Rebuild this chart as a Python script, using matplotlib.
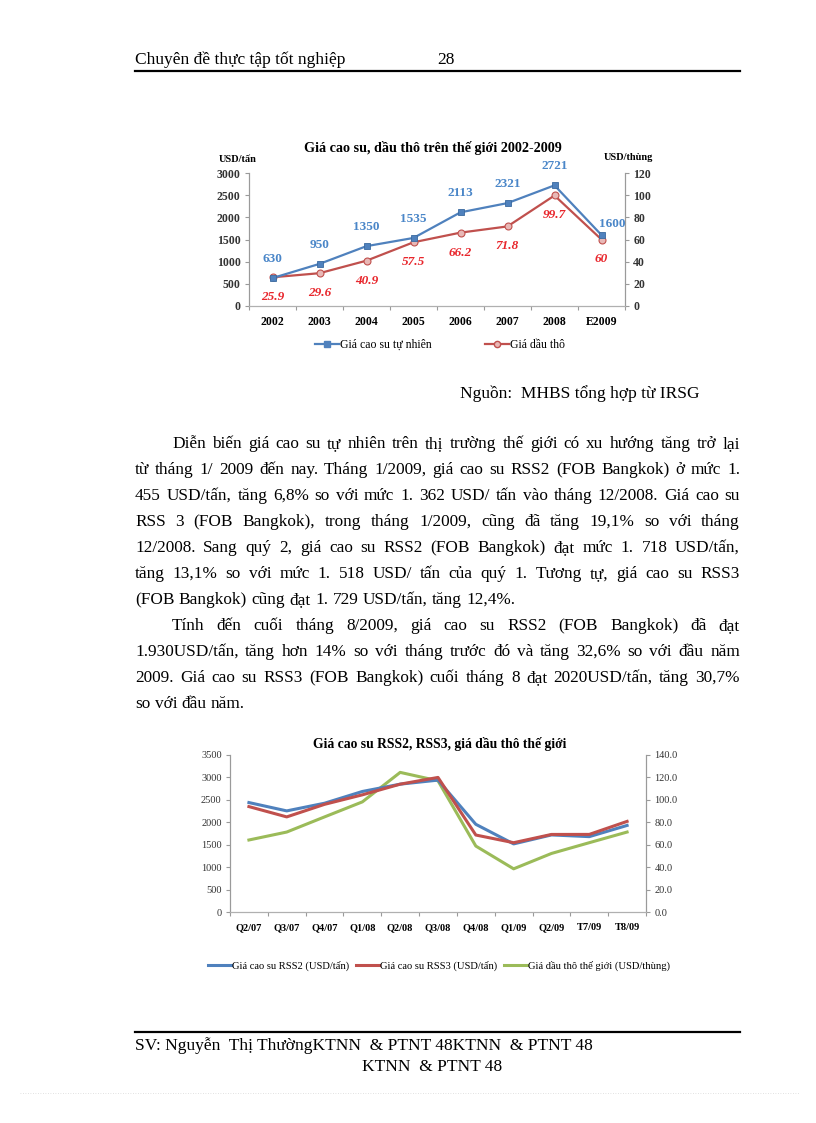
import numpy as np
import matplotlib
matplotlib.use('Agg')
import matplotlib.pyplot as plt
from matplotlib.lines import Line2D

W, H = 816, 1123
plt.rcParams['font.family'] = ['Liberation Serif', 'DejaVu Serif']

# chart 1: gia cao su, dau tho 2002-2009
years = ['2002', '2003', '2004', '2005', '2006', '2007', '2008', 'E2009']
rubber_price = [630, 950, 1350, 1535, 2113, 2321, 2721, 1600]
oil_price = [25.9, 29.6, 40.9, 57.5, 66.2, 71.8, 99.7, 60]

# chart 2: RSS2, RSS3, dau tho
quarters = ['Q2/07', 'Q3/07', 'Q4/07', 'Q1/08', 'Q2/08', 'Q3/08',
            'Q4/08', 'Q1/09', 'Q2/09', 'T7/09', 'T8/09']
rss2 = [2440, 2254, 2425, 2687, 2850, 2940, 1955, 1518, 1718, 1680, 1930]
rss3 = [2350, 2120, 2400, 2612, 2850, 3000, 1716, 1545, 1729, 1730, 2020]
oil_world = [64.2, 71.3, 84.8, 98.2, 124.5, 117.0, 58.8, 38.5, 52.2, 61.8, 71.3]

BLUE = '#4F81BD'
RED = '#C0504D'
GREEN = '#9BBB59'
AXC = '#9a9a9a'
DOC_FS = 12.5

fig = plt.figure(figsize=(W / 100, H / 100), dpi=100)
fig.patch.set_facecolor('white')


def box(l, t, r, b):
    return [l / W, 1 - b / H, (r - l) / W, (b - t) / H]


def ftext(x, y, s, **kw):
    return fig.text(x / W, 1 - y / H, s, **kw)


def hline(x0, x1, y, **kw):
    fig.add_artist(Line2D([x0 / W, x1 / W], [1 - y / H, 1 - y / H],
                          transform=fig.transFigure, **kw))


def style_axes(ax, axr, n):
    for a in (ax, axr):
        a.spines['top'].set_visible(False)
        a.spines['left'].set_color(AXC)
        a.spines['right'].set_color(AXC)
        a.spines['bottom'].set_color('#b0b0b0')
        a.spines['bottom'].set_linestyle((0, (1, 1)))
        for s in a.spines.values():
            s.set_linewidth(0.8)
    ax.set_xlim(-0.5, n - 0.5)
    ax.set_xticks(np.arange(-0.5, n, 1))
    ax.set_xticklabels([])
    ax.set_xticks(range(n), minor=True)
    ax.tick_params(axis='x', which='major', length=3, color=AXC, direction='out')
    ax.tick_params(axis='x', which='minor', length=0)
    ax.tick_params(axis='y', length=3, color=AXC, direction='out', pad=3)
    axr.tick_params(axis='y', length=3, color=AXC, direction='out', pad=3)


# ---------------- header ----------------
ftext(135, 64, 'Chuyên đề thực tập tốt nghiệp', fontsize=DOC_FS, va='baseline')
ftext(437, 64, '28', fontsize=DOC_FS, va='baseline')
hline(135, 740, 71, color='black', lw=1.6)

# ---------------- chart 1 ----------------
ax1 = fig.add_axes(box(249, 173, 625, 306))
ax1b = ax1.twinx()
style_axes(ax1, ax1b, len(years))
x1 = np.arange(len(years))
ax1b.plot(x1, oil_price, color=RED, lw=1.6, marker='o', ms=5,
          mfc='#e8b8b6', mec=RED, mew=0.8, zorder=2)
ax1.plot(x1, rubber_price, color=BLUE, lw=1.6, marker='s', ms=4.5,
         mfc=BLUE, mec='#3a6aa0', mew=0.6, zorder=3)
ax1.set_zorder(ax1b.get_zorder() + 1)
ax1.patch.set_visible(False)
ax1.set_ylim(0, 3000)
ax1.set_yticks(range(0, 3001, 500))
ax1b.set_ylim(0, 120)
ax1b.set_yticks(range(0, 121, 20))
ax1.set_xticklabels(years, minor=True, fontsize=8.5, fontweight='bold')
ax1.tick_params(axis='x', which='minor', pad=7)
for lab in ax1.get_yticklabels() + ax1b.get_yticklabels():
    lab.set_fontsize(8.5)
    lab.set_fontweight('bold')
    lab.set_color('#333333')

for i, v in enumerate(rubber_price):
    dx, dy = (11, 11) if i == len(years) - 1 else (0, 13)
    ax1.annotate(str(v), (i, v), xytext=(dx * 0.72, dy * 0.72), textcoords='offset points',
                 ha='center', va='bottom' if i < len(years) - 1 else 'center',
                 color='#4a86c8', fontsize=9.5, fontweight='bold')
for i, v in enumerate(oil_price):
    ax1b.annotate(f'{v:g}', (i, v), xytext=(0, -10), textcoords='offset points',
                  ha='center', va='top', color='#e8262c', fontsize=9.5,
                  fontweight='bold', fontstyle='italic')

ftext(433, 148, 'Giá cao su, dầu thô trên thế giới 2002-2009', fontsize=10.2,
      fontweight='bold', ha='center', va='center')
ftext(238, 160, 'USD/tấn', fontsize=7.5, fontweight='bold', ha='center', va='center')
ftext(628, 158, 'USD/thùng', fontsize=7.5, fontweight='bold', ha='center', va='center')

h1 = [Line2D([], [], color=BLUE, lw=1.6, marker='s', ms=4, mfc=BLUE),
      Line2D([], [], color=RED, lw=1.6, marker='o', ms=4.5, mfc='#e8b8b6', mec=RED)]
fig.legend(h1, ['Giá cao su tự nhiên', 'Giá dầu thô'], loc='center',
           bbox_to_anchor=(440 / W, 1 - 345 / H), ncol=2, frameon=False,
           fontsize=8.5, handlelength=2.0, handletextpad=0.1, columnspacing=4.5)

ftext(460, 398, 'Nguồn:  MHBS tổng hợp từ IRSG', fontsize=DOC_FS, va='baseline')

# ---------------- body text ----------------
body_fs = 12.4
para_lines = [
    ('Diễn biến giá cao su tự nhiên trên thị trường thế giới có xu hướng tăng trở lại', True, True),
    ('từ tháng 1/ 2009 đến nay. Tháng 1/2009, giá cao su RSS2 (FOB Bangkok) ở mức 1.', False, True),
    ('455 USD/tấn, tăng 6,8% so với mức 1. 362 USD/ tấn vào tháng 12/2008. Giá cao su', False, True),
    ('RSS 3 (FOB Bangkok), trong tháng 1/2009, cũng đã tăng 19,1% so với tháng', False, True),
    ('12/2008. Sang quý 2, giá cao su RSS2 (FOB Bangkok) đạt mức 1. 718 USD/tấn,', False, True),
    ('tăng 13,1% so với mức 1. 518 USD/ tấn của quý 1. Tương tự, giá cao su RSS3', False, True),
    ('(FOB Bangkok) cũng đạt 1. 729 USD/tấn, tăng 12,4%.', False, False),
    ('Tính đến cuối tháng 8/2009, giá cao su RSS2 (FOB Bangkok) đã đạt', True, True),
    ('1.930USD/tấn, tăng hơn 14% so với tháng trước đó và tăng 32,6% so với đầu năm', False, True),
    ('2009. Giá cao su RSS3 (FOB Bangkok) cuối tháng 8 đạt 2020USD/tấn, tăng 30,7%', False, True),
    ('so với đầu năm.', False, False),
]

renderer = fig.canvas.get_renderer()
t_a = ftext(0, 0, 'a a', fontsize=body_fs)
t_b = ftext(0, 0, 'aa', fontsize=body_fs)
space_w = t_a.get_window_extent(renderer).width - t_b.get_window_extent(renderer).width
t_a.remove()
t_b.remove()

y_base = 448
for text, indent, justify in para_lines:
    x_left = 172 if indent else 135
    x_right = 740
    words = text.split()
    objs = [ftext(0, y_base, w, fontsize=body_fs, va='baseline') for w in words]
    widths = [o.get_window_extent(renderer).width for o in objs]
    if justify and len(words) > 1:
        gap = (x_right - x_left - sum(widths)) / (len(words) - 1)
    else:
        gap = space_w
    x = x_left
    for o, w in zip(objs, widths):
        o.set_x(x / W)
        x += w + gap
    y_base += 26

# ---------------- chart 2 ----------------
ax2 = fig.add_axes(box(230, 755, 646, 912))
ax2b = ax2.twinx()
style_axes(ax2, ax2b, len(quarters))
x2 = np.arange(len(quarters))
ax2.plot(x2, rss2, color=BLUE, lw=2.2, zorder=3)
ax2.plot(x2, rss3, color=RED, lw=2.2, zorder=3)
ax2b.plot(x2, oil_world, color=GREEN, lw=2.2, zorder=2)
ax2.set_zorder(ax2b.get_zorder() + 1)
ax2.patch.set_visible(False)
ax2.set_ylim(0, 3500)
ax2.set_yticks(range(0, 3501, 500))
ax2b.set_ylim(0, 140)
ax2b.set_yticks(range(0, 141, 20))
ax2b.set_yticklabels([f'{v:.1f}' for v in range(0, 141, 20)])
ax2.set_xticklabels(quarters, minor=True, fontsize=7.5, fontweight='bold')
ax2.tick_params(axis='x', which='minor', pad=8)
for lab in ax2.get_yticklabels() + ax2b.get_yticklabels():
    lab.set_fontsize(7.5)
    lab.set_color('#333333')

ftext(440, 744, 'Giá cao su RSS2, RSS3, giá dầu thô thế giới', fontsize=9.8,
      fontweight='bold', ha='center', va='center')

h2 = [Line2D([], [], color=BLUE, lw=2.2),
      Line2D([], [], color=RED, lw=2.2),
      Line2D([], [], color=GREEN, lw=2.2)]
fig.legend(h2, ['Giá cao su RSS2 (USD/tấn)', 'Giá cao su RSS3 (USD/tấn)',
                'Giá dầu thô thế giới (USD/thùng)'], loc='center',
           bbox_to_anchor=(439 / W, 1 - 966 / H), ncol=3, frameon=False,
           fontsize=7.6, handlelength=2.2, handletextpad=0.1, columnspacing=0.6)

# ---------------- footer ----------------
hline(135, 740, 1032, color='black', lw=1.6)
ftext(135, 1050, 'SV: Nguyễn  Thị ThườngKTNN  & PTNT 48KTNN  & PTNT 48',
      fontsize=DOC_FS, va='baseline')
ftext(432, 1071, 'KTNN  & PTNT 48', fontsize=DOC_FS, va='baseline', ha='center')
hline(20, 800, 1093, color='#d8d8d8', lw=0.6, linestyle=(0, (1, 2)))

fig.savefig('out.png', dpi=100)
